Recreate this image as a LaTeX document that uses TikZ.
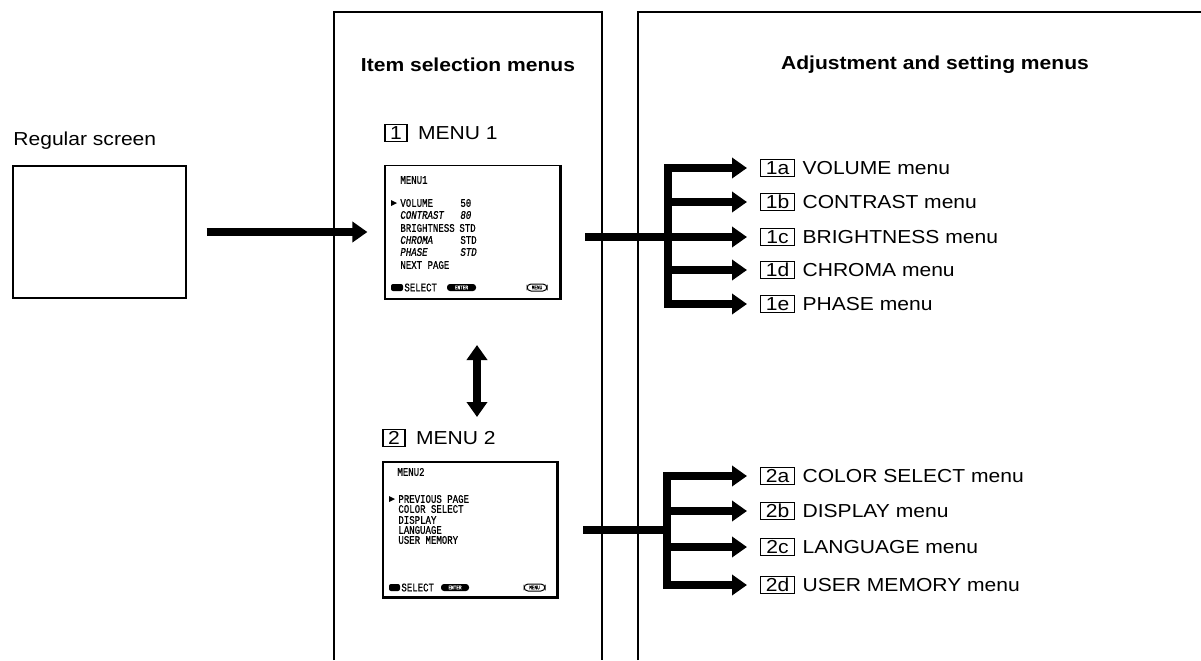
\documentclass[tikz,border=0pt]{standalone}
\usepackage{fontspec}
\setmainfont[FakeStretch=1.12]{Liberation Sans}
\newfontfamily\osdfont[FakeStretch=0.78,FakeBold=0.8]{Liberation Mono}
\usetikzlibrary{arrows.meta,positioning}
\tikzset{panel/.style={line width=0.6pt}}
\tikzset{bigarrow/.style={line width=4pt,-{Triangle[length=7.5pt,width=10pt]}}}
\tikzset{dblarrow/.style={line width=4pt,{Triangle[length=7.5pt,width=10pt]}-{Triangle[length=7.5pt,width=10pt]}}}
\tikzset{txt/.style={font=\fontsize{9.4}{11}\selectfont,inner sep=0pt}}
\tikzset{heading/.style={txt,font=\fontsize{9.4}{11}\selectfont\bfseries}}
\tikzset{numbox/.style={txt,draw,line width=0.6pt,minimum height=8.5pt,minimum width=11pt}}
\tikzset{subbox/.style={numbox,minimum width=17pt}}
\tikzset{osd/.style={font=\osdfont\fontsize{5.8}{6}\selectfont,inner sep=0pt,anchor=west}}
\tikzset{osdicon/.style={font=\osdfont\fontsize{2.8}{3}\selectfont,inner sep=0pt}}
\tikzset{screen/.style={draw,line width=0.6pt,minimum width=87.5pt,minimum height=66.5pt,inner sep=0pt}}

\begin{document}
\begin{tikzpicture}[x=0.5pt,y=-0.5pt]
	\useasboundingbox (0,0) rectangle (1201,660);

	\draw[panel] (334,660) |- (602,12) -- (602,660);
	\draw[panel] (638,660) |- (1201,12); % the two columns
	\node[heading] (hsel) at (468,65) {Item selection menus};
	\node[heading] (hadj) at (935,65) {Adjustment and setting menus};

	\node[txt,anchor=west] (lreg) at (13,141) {Regular screen};
	\node[screen,minimum width=86.5pt,minimum height=66pt] (reg) at (99.5,232) {};

	% MENU 1
	\node[numbox] (n1) at (396,133) {1};
	\node[txt,right=5pt of n1] (m1) {MENU 1};
	\node[screen] (scr1) at (472.5,232) {};
	\draw[line width=1.2pt] (scr1.north east) -- (scr1.south east) -- (scr1.south west);
	\node[osd] at (400,180) {MENU1};
	\fill (391,200) -- (391,206) -- (397,203) -- cycle;
	\node[osd] at (400,203) {VOLUME};     \node[osd] at (460,203) {50};
	\node[osd] at (400,215) {\itshape CONTRAST};   \node[osd] at (460,215) {\itshape 80};
	\node[osd] at (400,228) {BRIGHTNESS}; \node[osd] at (459,228) {STD};
	\node[osd] at (400,240) {\itshape CHROMA};     \node[osd] at (460,240) {STD};
	\node[osd] at (400,252) {\itshape PHASE};      \node[osd] at (460,252) {\itshape STD};
	\node[osd] at (400,265) {NEXT PAGE};
	\fill[rounded corners=1pt] (391,284) rectangle (403,291);
	\node[osd] at (404,287.5) {SELECT};
	\fill[rounded corners=1.5pt] (447,284) rectangle (476,291);
	\node[osdicon,text=white] at (461.5,287.5) {ENTER};
	\draw[rounded corners=2pt,line width=0.5pt] (527,284) rectangle (547,291);
	\node[osdicon] at (537,287.5) {MENU};

	% MENU 2
	\node[numbox] (n2) at (394,438) {2};
	\node[txt,right=5pt of n2] (m2) {MENU 2};
	\node[screen,minimum width=87pt,minimum height=67.5pt] (scr2) at (470,529.5) {};
	\draw[line width=1.2pt] (scr2.north east) -- (scr2.south east) -- (scr2.south west);
	\node[osd] at (397,472) {MENU2};
	\fill (389,496) -- (389,502) -- (395,499) -- cycle;
	\node[osd] at (398,499) {PREVIOUS PAGE};
	\node[osd] at (398,509) {COLOR SELECT};
	\node[osd] at (398,520) {DISPLAY};
	\node[osd] at (398,530) {LANGUAGE};
	\node[osd] at (398,540) {USER MEMORY};
	\fill[rounded corners=1pt] (389,584) rectangle (400,591);
	\node[osd] at (401,587.5) {SELECT};
	\fill[rounded corners=1.5pt] (441,584) rectangle (469,591);
	\node[osdicon,text=white] at (455,587.5) {ENTER};
	\draw[rounded corners=2pt,line width=0.5pt] (524,584) rectangle (545,591);
	\node[osdicon] at (534.5,587.5) {MENU};

	\draw[bigarrow,shorten <=10pt,shorten >=8.5pt] (reg.east) -- (scr1.west);
	\coordinate (d1) at (477,345);
	\coordinate (d2) at (477,417);
	\draw[dblarrow] (d1) -- (d2);

	% branches of MENU 1
	\coordinate (o1) at (585,237);
	\coordinate (k1a) at (668,168);
	\coordinate (k1b) at (668,202);
	\coordinate (k1d) at (668,270);
	\coordinate (k1e) at (668,304);
	\coordinate (t1a) at (747,168);
	\coordinate (t1b) at (747,202);
	\coordinate (t1c) at (747,237);
	\coordinate (t1d) at (747,270);
	\coordinate (t1e) at (747,304);
	\draw[bigarrow] (o1) -- (t1c);
	\draw[bigarrow] (k1e) |- (t1a);
	\draw[bigarrow] (k1a) |- (t1e);
	\draw[bigarrow] (k1b) -- (t1b);
	\draw[bigarrow] (k1d) -- (t1d);
	\node[subbox,right=6.5pt of t1a] (b1a) {1a};
	\node[txt,right=3.5pt of b1a] (l1a) {VOLUME menu};
	\node[subbox,right=6.5pt of t1b] (b1b) {1b};
	\node[txt,right=3.5pt of b1b] (l1b) {CONTRAST menu};
	\node[subbox,right=6.5pt of t1c] (b1c) {1c};
	\node[txt,right=3.5pt of b1c] (l1c) {BRIGHTNESS menu};
	\node[subbox,right=6.5pt of t1d] (b1d) {1d};
	\node[txt,right=3.5pt of b1d] (l1d) {CHROMA menu};
	\node[subbox,right=6.5pt of t1e] (b1e) {1e};
	\node[txt,right=3.5pt of b1e] (l1e) {PHASE menu};

	% branches of MENU 2
	\coordinate (o2) at (583,530);
	\coordinate (k2a) at (667,476);
	\coordinate (k2b) at (667,511);
	\coordinate (k2c) at (667,547);
	\coordinate (k2d) at (667,585);
	\coordinate (t2a) at (747,476);
	\coordinate (t2b) at (747,511);
	\coordinate (t2c) at (747,547);
	\coordinate (t2d) at (747,585);
	\draw[line width=4pt] (o2) -- (667,530);
	\draw[bigarrow] (k2d) |- (t2a);
	\draw[bigarrow] (k2a) |- (t2d);
	\draw[bigarrow] (k2b) -- (t2b);
	\draw[bigarrow] (k2c) -- (t2c);
	\node[subbox,right=6.5pt of t2a] (b2a) {2a};
	\node[txt,right=3.5pt of b2a] (l2a) {COLOR SELECT menu};
	\node[subbox,right=6.5pt of t2b] (b2b) {2b};
	\node[txt,right=3.5pt of b2b] (l2b) {DISPLAY menu};
	\node[subbox,right=6.5pt of t2c] (b2c) {2c};
	\node[txt,right=3.5pt of b2c] (l2c) {LANGUAGE menu};
	\node[subbox,right=6.5pt of t2d] (b2d) {2d};
	\node[txt,right=3.5pt of b2d] (l2d) {USER MEMORY menu};
\end{tikzpicture}
\end{document}
